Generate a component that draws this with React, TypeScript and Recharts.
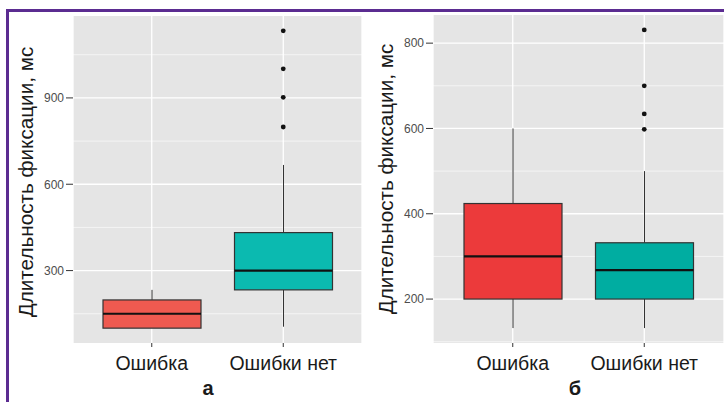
import { ComposedChart, Bar, Scatter, XAxis, YAxis, CartesianGrid } from 'recharts';

// panel "а"
const categories = ['Ошибка', 'Ошибки нет'];
const aLow = [100, 105];
const aQ1 = [100, 233];
const aMedian = [150, 300];
const aQ3 = [198, 432];
const aHigh = [233, 667];
const aOutliers = [1133, 1001, 902, 799];

// panel "б"
const bLow = [132, 132];
const bQ1 = [200, 200];
const bMedian = [300, 268];
const bQ3 = [424, 332];
const bHigh = [600, 500];
const bOutliers = [831, 700, 634, 598];

const aTicks = [300, 600, 900];
const aMinor = [150, 450, 750, 1050];
const bTicks = [200, 400, 600, 800];
const bMinor = [100, 300, 500, 700];

const FONT = '"Liberation Sans", Arial, sans-serif';
const Y_TITLE = 'Длительность фиксации, мс';

const buildRows = (lo: number[], q1: number[], med: number[], q3: number[], hi: number[]) =>
  categories.map((name, i) => ({
    name,
    lo: lo[i],
    q1: q1[i],
    med: med[i],
    q3: q3[i],
    hi: hi[i],
    box: [q1[i], q3[i]],
  }));

const buildOutliers = (vals: number[]) => vals.map((v) => ({ name: 'Ошибки нет', value: v }));

const makeBoxShape = (colors: string[]) => (props: any) => {
  const { x, y, width, height, payload, index } = props;
  const { q1, q3, med, lo, hi } = payload;
  const k = height / (q3 - q1);
  const py = (v: number) => y + (q3 - v) * k;
  const cx = x + width / 2;
  return (
    <g>
      <line x1={cx} x2={cx} y1={py(hi)} y2={py(q3)} stroke="#333" strokeWidth={1} />
      <line x1={cx} x2={cx} y1={py(q1)} y2={py(lo)} stroke="#333" strokeWidth={1} />
      <rect x={x} y={y} width={width} height={height} fill={colors[index]} stroke="#333" strokeWidth={1.2} />
      <line x1={x} x2={x + width} y1={py(med)} y2={py(med)} stroke="#111" strokeWidth={2.2} />
    </g>
  );
};

interface PanelProps {
  rows: ReturnType<typeof buildRows>;
  outliers: { name: string; value: number }[];
  domain: [number, number];
  ticks: number[];
  minor: number[];
  colors: string[];
  top: number;
  axisWidth: number;
  pad: number;
  letter: string;
  letterX: number;
  titleX: number;
  titleY: number;
}

function Panel(p: PanelProps) {
  return (
    <ComposedChart
      width={362}
      height={402}
      data={p.rows}
      margin={{ top: p.top, right: 0, bottom: 0, left: 0 }}
      barSize={98}
    >
      <CartesianGrid
        fill="#E5E5E5"
        stroke="#ffffff"
        strokeWidth={0.6}
        vertical={false}
        horizontalValues={p.minor}
      />
      <CartesianGrid stroke="#ffffff" strokeWidth={1.3} horizontalValues={p.ticks} />
      <XAxis
        dataKey="name"
        type="category"
        allowDuplicatedCategory={false}
        height={59}
        padding={{ left: p.pad, right: p.pad }}
        axisLine={false}
        tickSize={4}
        tickMargin={9}
        tickLine={{ stroke: '#333' }}
        tick={{ fontSize: 19.5, fill: '#1a1a1a', fontFamily: FONT }}
        label={() => (
          <text
            x={p.letterX}
            y={395}
            textAnchor="middle"
            fontSize={20}
            fontWeight="bold"
            fontFamily={FONT}
            fill="#1a1a1a"
          >
            {p.letter}
          </text>
        )}
      />
      <YAxis
        type="number"
        width={p.axisWidth}
        domain={p.domain}
        ticks={p.ticks}
        interval={0}
        allowDataOverflow
        axisLine={false}
        tickSize={7}
        tickMargin={2}
        tickLine={{ stroke: '#333' }}
        tick={{ fontSize: 12, fill: '#4D4D4D', fontFamily: FONT }}
        label={() => (
          <text
            x={p.titleX}
            y={p.titleY}
            textAnchor="middle"
            dominantBaseline="central"
            transform={`rotate(-90, ${p.titleX}, ${p.titleY})`}
            fontSize={20.7}
            fontFamily={FONT}
            fill="#1a1a1a"
          >
            {Y_TITLE}
          </text>
        )}
      />
      <Bar dataKey="box" shape={makeBoxShape(p.colors)} isAnimationActive={false} />
      <Scatter
        data={p.outliers}
        dataKey="value"
        fill="#111"
        isAnimationActive={false}
        shape={(sp: any) => <circle cx={sp.cx} cy={sp.cy} r={2.4} fill="#111" />}
      />
    </ComposedChart>
  );
}

export default function App() {
  const aRows = buildRows(aLow, aQ1, aMedian, aQ3, aHigh);
  const bRows = buildRows(bLow, bQ1, bMedian, bQ3, bHigh);
  return (
    <div
      style={{
        position: 'absolute',
        left: 0,
        top: 0,
        width: 724,
        height: 402,
        background: '#fff',
        overflow: 'hidden',
      }}
    >
      <div style={{ position: 'absolute', left: 0, top: 0 }}>
        <Panel
          rows={aRows}
          outliers={buildOutliers(aOutliers)}
          domain={[48.4, 1184.6]}
          ticks={aTicks}
          minor={aMinor}
          colors={['#EF5A50', '#0BBAB0']}
          top={16}
          axisWidth={73}
          pad={13}
          letter="а"
          letterX={208}
          titleX={25}
          titleY={182}
        />
      </div>
      <div style={{ position: 'absolute', left: 362, top: 0 }}>
        <Panel
          rows={bRows}
          outliers={buildOutliers(bOutliers)}
          domain={[97, 866]}
          ticks={bTicks}
          minor={bMinor}
          colors={['#EC3A3B', '#00ADA1']}
          top={15}
          axisWidth={71}
          pad={14}
          letter="б"
          letterX={213}
          titleX={23}
          titleY={179}
        />
      </div>
      <div style={{ position: 'absolute', left: 6, top: 9, width: 3, height: 393, background: '#5B2C91' }} />
      <div style={{ position: 'absolute', left: 6, top: 9, width: 718, height: 3, background: '#5B2C91' }} />
    </div>
  );
}
